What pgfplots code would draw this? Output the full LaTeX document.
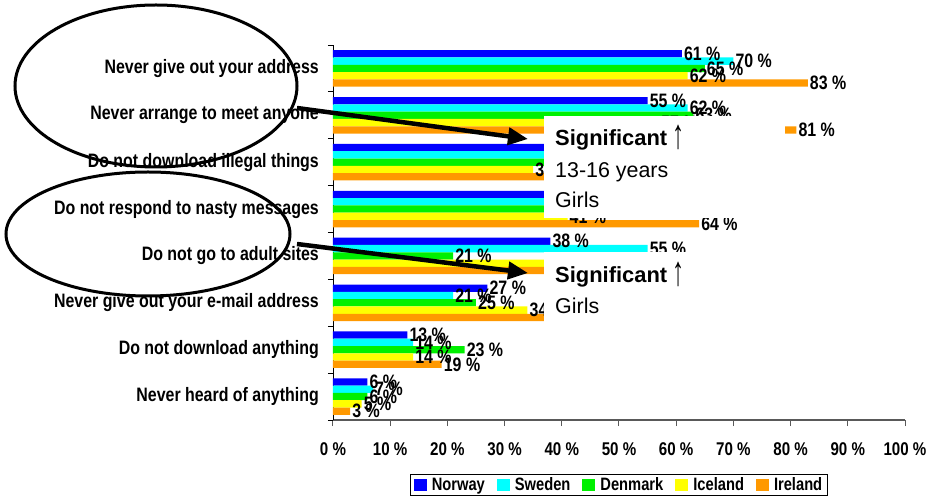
\documentclass[border=0pt]{standalone}
\usepackage{fontspec}
\setmainfont{Liberation Sans}
\newfontfamily\narrowfont{Liberation Sans}[FakeStretch=0.82]
\usepackage{pgfplots}
\pgfplotsset{compat=1.18}
\usetikzlibrary{arrows.meta}
\definecolor{cNor}{RGB}{0,0,255}
\definecolor{cSwe}{RGB}{0,255,255}
\definecolor{cDen}{RGB}{0,240,0}
\definecolor{cIce}{RGB}{255,255,0}
\definecolor{cIre}{RGB}{255,153,0}
\newcommand{\lbl}{\narrowfont\bfseries\fontsize{19.5}{20}\selectfont}
\newcommand{\tlbl}{\narrowfont\bfseries\fontsize{18.5}{19}\selectfont}
\newcommand{\leglbl}{\narrowfont\bfseries\fontsize{18}{19}\selectfont}
\newcommand{\uparr}{\hspace{5bp}\raisebox{-3bp}{\mdseries\scalebox{1.1}[1.9]{↑}}}
\begin{document}
\begin{tikzpicture}
\path[use as bounding box] (-333bp,-78bp) rectangle (599bp,420bp);
\begin{axis}[
  at={(0,0)}, anchor=south west,
  scale only axis, width=572bp, height=375bp,
  xmin=0, xmax=100, ymin=-0.5, ymax=7.5, y dir=reverse,
  xbar, bar width=0.156,
  axis x line*=bottom, axis y line*=left,
  x axis line style={draw=gray!70!black, line width=1.6bp, -},
  y axis line style={draw=black, line width=0.8bp, -},
  /pgf/number format/assume math mode=true,
  xtick={0,10,...,100},
  xticklabel={\pgfmathprintnumber{\tick}~\%},
  xticklabel style={font=\tlbl, inner sep=0pt, yshift=-16bp},
  major x tick style={draw=gray!70!black, line width=1bp},
  tick align=outside,
  major tick length=6bp,
  ytick={0,...,7},
  yticklabels={Never give out your address,Never arrange to meet anyone,Do not download illegal things,Do not respond to nasty messages,Do not go to adult sites,Never give out your e-mail address,Do not download anything,Never heard of anything},
  yticklabel style={font=\lbl, inner sep=0pt, xshift=-8bp},
  major y tick style={draw=none},
  minor ytick={-0.5,0.5,...,7.5},
  minor y tick style={draw=black, line width=0.8bp},
  minor tick length=5bp,
  nodes near coords={\pgfmathprintnumber{\pgfplotspointmeta}~\%},
  every node near coord/.append style={font=\lbl, inner sep=2bp, text=black},
  legend style={at={(axis description cs:0.5,-0.144)}, anchor=north, legend columns=-1, draw=black, line width=0.8bp, font=\leglbl, inner xsep=3bp, inner ysep=1.5bp,
    /tikz/every odd column/.append style={column sep=3bp},
    /tikz/every even column/.append style={column sep=10bp}},
  legend image code/.code={\fill[#1] (0bp,-6bp) rectangle (13bp,6bp);},
]
\addplot[fill=cNor, draw=none, bar shift=-0.312] coordinates {(61,0) (55,1) (50,2) (55,3) (38,4) (27,5) (13,6) (6,7)};
\addplot[fill=cSwe, draw=none, bar shift=-0.156] coordinates {(70,0) (62,1) (55,2) (60,3) (55,4) (21,5) (14,6) (7,7)};
\addplot[fill=cDen, draw=none, bar shift=0] coordinates {(65,0) (63,1) (48,2) (50,3) (21,4) (25,5) (23,6) (6,7)};
\addplot[fill=cIce, draw=none, bar shift=0.156] coordinates {(62,0) (57,1) (35,2) (41,3) (45,4) (34,5) (14,6) (5,7)};
\addplot[fill=cIre, draw=none, bar shift=0.312] coordinates {(83,0) (81,1) (60,2) (64,3) (48,4) (45,5) (19,6) (3,7)};
\legend{Norway,Sweden,Denmark,Iceland,Ireland}
\end{axis}
\draw[line width=3bp] (-177bp,334bp) ellipse [x radius=141bp, y radius=81bp];
\draw[line width=3bp] (-185bp,186bp) ellipse [x radius=142bp, y radius=62bp];
\fill[white] (211bp,304bp) rectangle (452bp,202bp);
\fill[white] (211bp,168bp) rectangle (367bp,90bp);
\draw[line width=4.5bp, -{Triangle[length=20bp,width=17bp]}] (-36bp,312bp) -- (195bp,281bp);
\draw[line width=4.5bp, -{Triangle[length=20bp,width=17bp]}] (-36bp,176bp) -- (195bp,147bp);
\node[anchor=base west, inner sep=0pt, font=\bfseries\fontsize{22}{22}\selectfont] at (222bp,274bp) {Significant\uparr};
\node[anchor=base west, inner sep=0pt, font=\fontsize{21.5}{22}\selectfont] at (222bp,242bp) {13-16 years};
\node[anchor=base west, inner sep=0pt, font=\fontsize{21.5}{22}\selectfont] at (222bp,212bp) {Girls};
\node[anchor=base west, inner sep=0pt, font=\bfseries\fontsize{22}{22}\selectfont] at (222bp,137bp) {Significant\uparr};
\node[anchor=base west, inner sep=0pt, font=\fontsize{21.5}{22}\selectfont] at (222bp,106bp) {Girls};
\end{tikzpicture}
\end{document}
